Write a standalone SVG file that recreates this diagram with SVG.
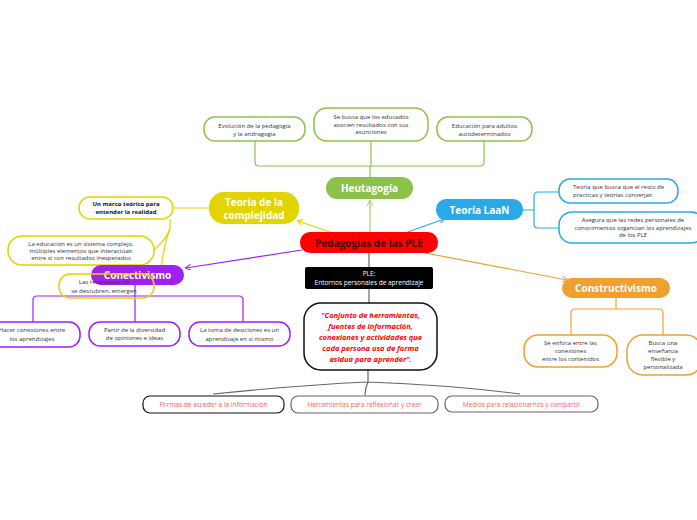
<svg xmlns="http://www.w3.org/2000/svg" width="697" height="520" viewBox="0 0 697 520">
<defs>
<style>
.t{font-family:"Open Sans","DejaVu Sans",sans-serif;font-size:6px;fill:#333;text-anchor:middle}
.h{font-family:"Open Sans","DejaVu Sans",sans-serif;font-size:10px;font-weight:bold;fill:#fff;text-anchor:middle}
.c{fill:none;stroke-width:1.2}
.g{stroke:#8bc34a}.y{stroke:#e3d400}.p{stroke:#a020f0}.b{stroke:#2aa9e8}.o{stroke:#f0a030}.k{stroke:#666}
.box{fill:#fff;stroke-width:1.5}
.r{font-family:"Open Sans","DejaVu Sans",sans-serif;font-size:6.5px;fill:#ff5a5a;text-anchor:middle}
</style>
<marker id="ag" markerWidth="6" markerHeight="6" refX="5" refY="3" orient="auto" markerUnits="userSpaceOnUse"><path d="M0,0 L6,3 L0,6" fill="none" stroke="#a5cc70" stroke-width="1"/></marker>
<marker id="ay" markerWidth="6" markerHeight="6" refX="5" refY="3" orient="auto" markerUnits="userSpaceOnUse"><path d="M0,0 L6,3 L0,6" fill="none" stroke="#e3d400" stroke-width="1"/></marker>
<marker id="ap" markerWidth="6" markerHeight="6" refX="5" refY="3" orient="auto" markerUnits="userSpaceOnUse"><path d="M0,0 L6,3 L0,6" fill="none" stroke="#a020f0" stroke-width="1"/></marker>
<marker id="ab" markerWidth="6" markerHeight="6" refX="5" refY="3" orient="auto" markerUnits="userSpaceOnUse"><path d="M0,0 L6,3 L0,6" fill="none" stroke="#2aa9e8" stroke-width="1"/></marker>
<marker id="ao" markerWidth="6" markerHeight="6" refX="5" refY="3" orient="auto" markerUnits="userSpaceOnUse"><path d="M0,0 L6,3 L0,6" fill="none" stroke="#f0a030" stroke-width="1"/></marker>
</defs>
<rect width="697" height="520" fill="#fff"/>

<g id="connectors">
<!-- central to main -->
<path class="c" stroke="#a5cc70" d="M370,232 L370,201" marker-end="url(#ag)"/>
<path class="c y" d="M333,233 L298,221" marker-end="url(#ay)"/>
<path class="c p" d="M302,250 L186,268" marker-end="url(#ap)"/>
<path class="c b" d="M405,233 L444,219" marker-end="url(#ab)"/>
<path class="c o" d="M420,252 L567,280" marker-end="url(#ao)"/>
<path class="c k" d="M369,252 L369,267"/>
<path class="c k" d="M369,289 L369,304"/>
<!-- heutagogia children -->
<path class="c g" d="M370,177 L370,166 M259,166 L480,166 M255,141 L255,162 Q255,166 259,166 M371,141 L371,166 M484,141 L484,162 Q484,166 480,166"/>
<!-- complejidad children -->
<path class="c y" d="M173,208 L209,208"/>
<path class="c y" d="M170,219 L170,228 Q168,236 160,244 L154,250"/>
<path class="c y" d="M170,228 Q164,245 162,262 L160,274"/>
<!-- conectivismo children -->
<path class="c p" d="M135,285 L135,296 M37,296 L239,296 M33,322 L33,300 Q33,296 37,296 M135,296 L135,322 M243,322 L243,300 Q243,296 239,296"/>
<!-- LaaN children -->
<path class="c b" d="M523,210 L534,210 M538,192 L559,192 M534,196 L534,224 M538,228 L559,228 M534,196 Q534,192 538,192 M534,224 Q534,228 538,228"/>
<!-- constructivismo children -->
<path class="c o" d="M616,298 L616,309 M575,309 L659,309 M571,335 L571,313 Q571,309 575,309 M663,335 L663,313 Q663,309 659,309"/>
<!-- bottom -->
<path class="c k" stroke-width="1" d="M368,370 L368,382 Q300,385 213,394 M368,382 Q365,388 365,395 M368,382 Q450,385 520,394"/>
</g>

<g id="central">
<rect x="300" y="232" width="138" height="21" rx="10" fill="#ff0000"/>
<text x="369" y="246.5" class="h" fill="#3a0000" style="fill:#3a0000">Pedagogías de las PLE</text>
</g>

<g id="heutagogia">
<rect x="326" y="177" width="87" height="22" rx="11" fill="#8bc34a"/>
<text x="369.5" y="191.5" class="h">Heutagogía</text>
</g>
<g id="h1">
<rect x="204" y="117" width="101" height="24" rx="11" class="box g"/>
<text class="t" x="254.5" y="127.5">Evolución de la pedagogía</text>
<text class="t" x="254.5" y="135.5">y la andragogía</text>
</g>
<g id="h2">
<rect x="314" y="108" width="114" height="33" rx="13" class="box g"/>
<text class="t" x="371" y="119">Se busca que los educados</text>
<text class="t" x="371" y="126.5">asocien resultados con sus</text>
<text class="t" x="371" y="134">asunciones</text>
</g>
<g id="h3">
<rect x="437" y="117" width="95" height="24" rx="11" class="box g"/>
<text class="t" x="484.5" y="127.5">Educación para adultos</text>
<text class="t" x="484.5" y="135.5">autodeterminados</text>
</g>

<g id="complejidad">
<rect x="209" y="192" width="90" height="32" rx="15" fill="#e3d400"/>
<text class="h" x="254" y="205.5">Teoría de la</text>
<text class="h" x="254" y="218.5">complejidad</text>
</g>
<g id="c1">
<rect x="79" y="197" width="94" height="22" rx="11" class="box y"/>
<text class="t" x="126" y="206" style="font-weight:bold;fill:#111">Un marco teórico para</text>
<text class="t" x="126" y="214" style="font-weight:bold;fill:#111">entender la realidad</text>
</g>
<g id="c2">
<rect x="8" y="236" width="146" height="29" rx="14" class="box y"/>
<text class="t" x="81" y="245.5">La educación es un sistema  complejo,</text>
<text class="t" x="81" y="252.5">múltiples elementos que interactúan</text>
<text class="t" x="81" y="260">entre sí con resultados inesperados</text>
</g>

<g id="conectivismo">
<rect x="91" y="265" width="93" height="20" rx="10" fill="#a020f0"/>
<text class="h" x="137.5" y="279">Conectivismo</text>
</g>
<g id="c3">
<rect x="59" y="274" width="95" height="24" rx="11" fill="none" stroke="#e3d400" stroke-width="1.5"/>
<text class="t" x="104" y="284">Las respuestas no</text>
<text class="t" x="104" y="292.5">se descubren, emergen</text>
</g>
<g id="p1">
<rect x="-14" y="322" width="94" height="25" rx="11" class="box p"/>
<text class="t" x="32" y="332">Hacer conexiones entre</text>
<text class="t" x="32" y="341">los aprendizajes</text>
</g>
<g id="p2">
<rect x="89" y="322" width="91" height="24" rx="11" class="box p"/>
<text class="t" x="134.5" y="331.5">Partir de la diversidad</text>
<text class="t" x="134.5" y="340">de opiniones e ideas</text>
</g>
<g id="p3">
<rect x="189" y="322" width="101" height="24" rx="11" class="box p"/>
<text class="t" x="239.5" y="331.5">La toma de desiciones es un</text>
<text class="t" x="239.5" y="340.5">aprendizaje en sí mismo</text>
</g>

<g id="laan">
<rect x="436" y="199" width="87" height="21" rx="10" fill="#2aa9e8"/>
<text class="h" x="479.5" y="213.5">Teoría LaaN</text>
</g>
<g id="l1">
<rect x="559" y="179" width="119" height="24" rx="11" class="box b"/>
<text class="t" x="573" y="188.5" style="text-anchor:start">Teoría que busca que el resto de</text>
<text class="t" x="573" y="196.5" style="text-anchor:start">practicas y teorías converjan</text>
</g>
<g id="l2">
<rect x="559" y="212" width="145" height="31" rx="13" class="box b"/>
<text class="t" x="633" y="222">Asegura que las redes personales de</text>
<text class="t" x="633" y="229.5">conocimientos organizan los aprendizajes</text>
<text class="t" x="633" y="237">de los PLE</text>
</g>

<g id="constructivismo">
<rect x="562" y="278" width="108" height="20" rx="10" fill="#f0a030"/>
<text class="h" x="616" y="292">Constructivismo</text>
</g>
<g id="o1">
<rect x="524" y="335" width="93" height="32" rx="14" class="box o"/>
<text class="t" x="570.5" y="344.5">Se enfoca entre las</text>
<text class="t" x="570.5" y="352.5">conexiones</text>
<text class="t" x="570.5" y="360.5">entre los contenidos</text>
</g>
<g id="o2">
<rect x="627" y="335" width="75" height="40" rx="16" class="box o"/>
<text class="t" x="663" y="344.5">Busca una</text>
<text class="t" x="663" y="352.5">enseñanza</text>
<text class="t" x="663" y="360.5">flexible y</text>
<text class="t" x="663" y="368.5">personalizada</text>
</g>

<g id="ple">
<rect x="305" y="267" width="128" height="22" rx="2" fill="#000"/>
<text class="t" x="369" y="276" style="fill:#fff;font-size:6.5px">PLE:</text>
<text class="t" x="369" y="284.5" style="fill:#fff;font-size:6.5px">Entornos personales de aprendizaje</text>
</g>

<g id="quote">
<rect x="304" y="303" width="133" height="67" rx="17" fill="#fff" stroke="#111" stroke-width="1.5"/>
<g style="font-family:'Open Sans','DejaVu Sans',sans-serif;font-size:7.5px;font-style:italic;font-weight:bold;fill:#ff0000;text-anchor:middle">
<text x="370.5" y="318">"Conjunto de herramientas,</text>
<text x="370.5" y="329">fuentes de información,</text>
<text x="370.5" y="340">conexiones y actividades que</text>
<text x="370.5" y="351">cada persona usa de forma</text>
<text x="370.5" y="362">asidua para aprender".</text>
</g>
</g>

<g id="b1">
<rect x="143" y="396" width="141" height="17" rx="7" fill="#fff" stroke="#111" stroke-width="1.2"/>
<text class="r" x="213.5" y="407">Formas de acceder a la información</text>
</g>
<g id="b2">
<rect x="291" y="396" width="147" height="17" rx="7" fill="#fff" stroke="#666" stroke-width="1.2"/>
<text class="r" x="364.5" y="407">Herramientas para reflexionar y crear</text>
</g>
<g id="b3">
<rect x="445" y="396" width="153" height="16" rx="7" fill="#fff" stroke="#666" stroke-width="1.2"/>
<text class="r" x="521.5" y="406.5">Medios para relacionarnos y compartir</text>
</g>
</svg>
